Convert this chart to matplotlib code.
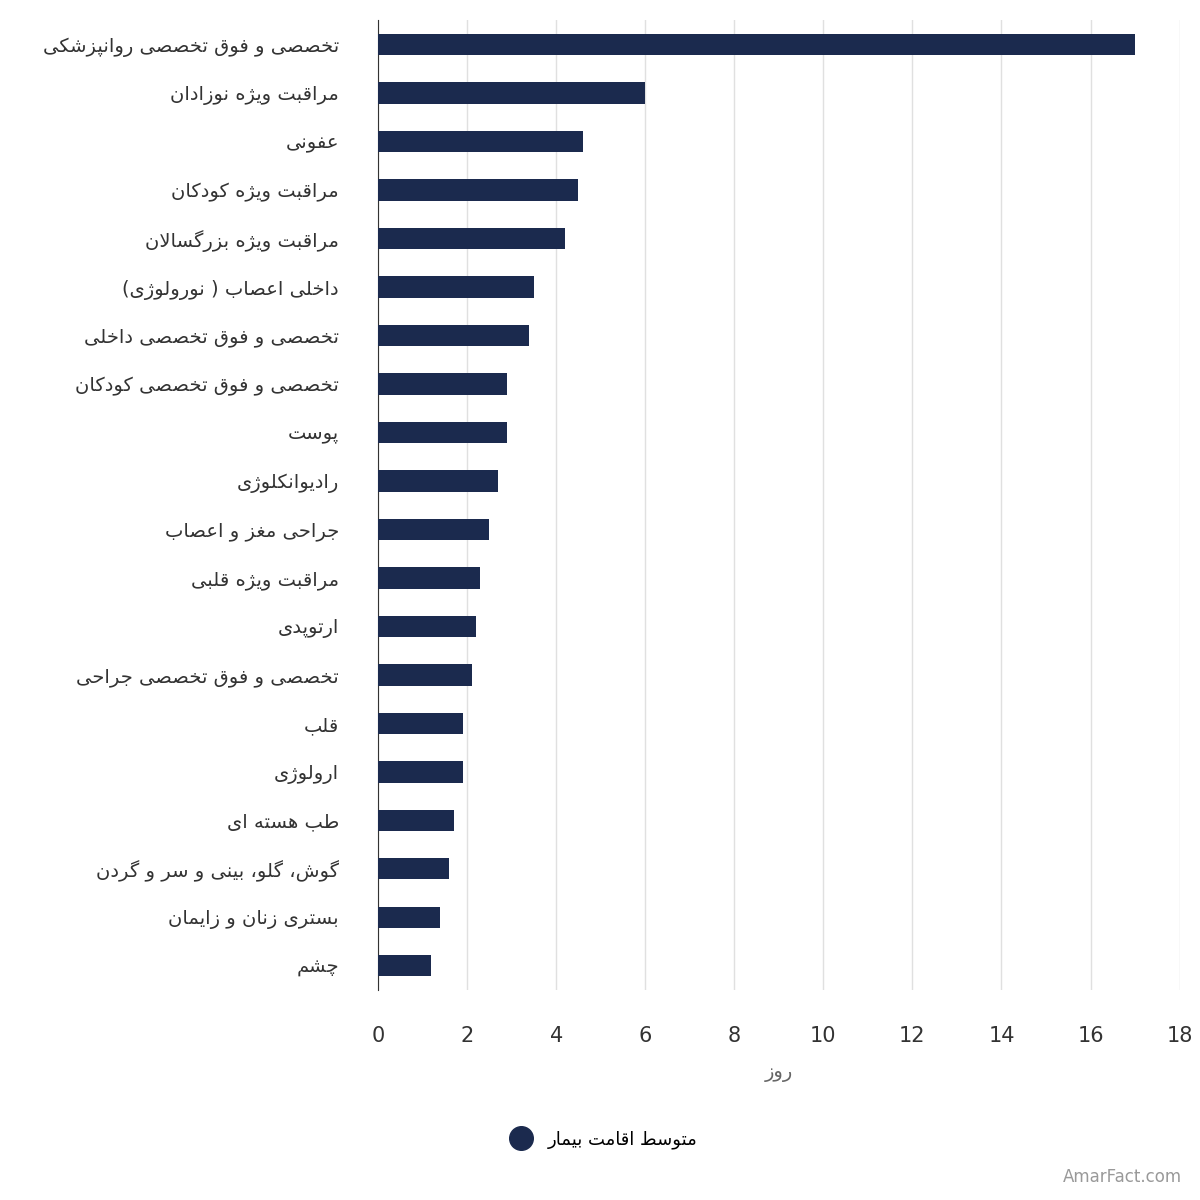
import matplotlib
matplotlib.use("Agg")
import matplotlib.pyplot as plt
from matplotlib.lines import Line2D

categories = ["تخصصی و فوق تخصصی روانپزشکی", "مراقبت ویژه نوزادان", "عفونی", "مراقبت ویژه کودکان",
              "مراقبت ویژه بزرگسالان", "داخلی اعصاب ( نورولوژی)", "تخصصی و فوق تخصصی داخلی",
              "تخصصی و فوق تخصصی کودکان", "پوست", "رادیوانکلوژی", "جراحی مغز و اعصاب",
              "مراقبت ویژه قلبی", "ارتوپدی", "تخصصی و فوق تخصصی جراحی", "قلب", "ارولوژی",
              "طب هسته ای", "گوش، گلو، بینی و سر و گردن", "بستری زنان و زایمان", "چشم"]
values = [17, 6, 4.6, 4.5, 4.2, 3.5, 3.4, 2.9, 2.9, 2.7, 2.5, 2.3, 2.2, 2.1, 1.9, 1.9, 1.7, 1.6, 1.4, 1.2]
xlabel = "روز"
legend_label = "متوسط اقامت بیمار"

# minimal Persian shaper: (isolated, final, initial, medial)
F = {
 'ا': (0xFE8D, 0xFE8E, None, None), 'ب': (0xFE8F, 0xFE90, 0xFE91, 0xFE92),
 'پ': (0xFB56, 0xFB57, 0xFB58, 0xFB59), 'ت': (0xFE95, 0xFE96, 0xFE97, 0xFE98),
 'ث': (0xFE99, 0xFE9A, 0xFE9B, 0xFE9C), 'ج': (0xFE9D, 0xFE9E, 0xFE9F, 0xFEA0),
 'چ': (0xFB7A, 0xFB7B, 0xFB7C, 0xFB7D), 'ح': (0xFEA1, 0xFEA2, 0xFEA3, 0xFEA4),
 'خ': (0xFEA5, 0xFEA6, 0xFEA7, 0xFEA8), 'د': (0xFEA9, 0xFEAA, None, None),
 'ذ': (0xFEAB, 0xFEAC, None, None), 'ر': (0xFEAD, 0xFEAE, None, None),
 'ز': (0xFEAF, 0xFEB0, None, None), 'ژ': (0xFB8A, 0xFB8B, None, None),
 'س': (0xFEB1, 0xFEB2, 0xFEB3, 0xFEB4), 'ش': (0xFEB5, 0xFEB6, 0xFEB7, 0xFEB8),
 'ص': (0xFEB9, 0xFEBA, 0xFEBB, 0xFEBC), 'ض': (0xFEBD, 0xFEBE, 0xFEBF, 0xFEC0),
 'ط': (0xFEC1, 0xFEC2, 0xFEC3, 0xFEC4), 'ظ': (0xFEC5, 0xFEC6, 0xFEC7, 0xFEC8),
 'ع': (0xFEC9, 0xFECA, 0xFECB, 0xFECC), 'غ': (0xFECD, 0xFECE, 0xFECF, 0xFED0),
 'ف': (0xFED1, 0xFED2, 0xFED3, 0xFED4), 'ق': (0xFED5, 0xFED6, 0xFED7, 0xFED8),
 'ک': (0xFB8E, 0xFB8F, 0xFB90, 0xFB91), 'گ': (0xFB92, 0xFB93, 0xFB94, 0xFB95),
 'ل': (0xFEDD, 0xFEDE, 0xFEDF, 0xFEE0), 'م': (0xFEE1, 0xFEE2, 0xFEE3, 0xFEE4),
 'ن': (0xFEE5, 0xFEE6, 0xFEE7, 0xFEE8), 'ه': (0xFEE9, 0xFEEA, 0xFEEB, 0xFEEC),
 'و': (0xFEED, 0xFEEE, None, None), 'ی': (0xFBFC, 0xFBFD, 0xFBFE, 0xFBFF),
}
MIRROR = {'(': ')', ')': '('}

def shape(s):
    s = s.replace('لا', '\uE000')
    out = []
    n = len(s)
    def dual(c):
        return c in F and F[c][2] is not None
    def joins(c):
        return c in F or c == '\uE000'
    for i, c in enumerate(s):
        prev = s[i-1] if i > 0 else ''
        nxt = s[i+1] if i < n-1 else ''
        jp = dual(prev)
        if c == '\uE000':
            out.append(chr(0xFEFC if jp else 0xFEFB)); continue
        if c not in F:
            out.append(MIRROR.get(c, c)); continue
        jn = dual(c) and joins(nxt)
        iso, fin, ini, med = F[c]
        if jp and jn: g = med
        elif jp: g = fin
        elif jn: g = ini
        else: g = iso
        out.append(chr(g))
    return ''.join(out[::-1])

plt.rcParams['font.family'] = ['DejaVu Sans']
color = '#1b2a4e'
fig = plt.figure(figsize=(12, 12), dpi=100)
ax = fig.add_axes([0.315, 0.175, 0.668, 0.808])
y = list(range(len(categories)))
ax.barh(y, values, height=0.44, color=color, zorder=3)
ax.set_ylim(len(categories) - 0.5, -0.5)
ax.set_xlim(0, 18)
ax.set_xticks(range(0, 19, 2))
ax.set_yticks(y)
ax.set_yticklabels([shape(c) for c in categories], fontsize=14, color='#333333')
ax.tick_params(axis='x', labelsize=15, colors='#333333', length=0, pad=26)
ax.tick_params(axis='y', length=0, pad=28)
ax.grid(axis='x', color='#e0e0e0', linewidth=1, zorder=0)
for sp in ['top', 'right', 'bottom']:
    ax.spines[sp].set_visible(False)
ax.spines['left'].set_color('#333333')
ax.set_xlabel(shape(xlabel), fontsize=14, color='#666666', labelpad=12)

h = Line2D([], [], marker='o', linestyle='none', markersize=17, color=color)
fig.legend([h], [shape(legend_label)], loc='center', bbox_to_anchor=(0.5, 0.05),
           frameon=False, fontsize=13, handletextpad=0.5)
fig.text(0.985, 0.012, 'AmarFact.com', ha='right', va='bottom', fontsize=12, color='#999999')
fig.savefig('out.png', dpi=100, facecolor='white')
